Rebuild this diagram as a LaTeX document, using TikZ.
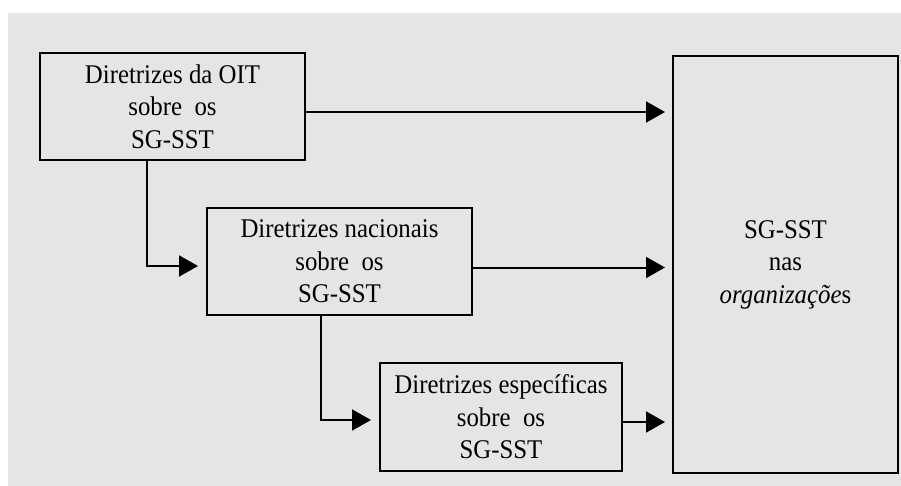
\documentclass[tikz,border=0pt]{standalone}
\usepackage{fontspec}
\setmainfont{Liberation Serif}[FakeStretch=0.92]
\usetikzlibrary{arrows.meta}
\definecolor{bg}{HTML}{E5E5E5}
\begin{document}
\begin{tikzpicture}[x=1pt,y=-1pt,
  box/.style={draw,line width=2pt,align=center,inner sep=0pt,
    font=\fontsize{27}{32.5}\selectfont},
  conn/.style={line width=2pt,-{Triangle[length=19pt,width=21pt]},shorten >=7pt}]
\useasboundingbox (0,0) rectangle (901,486);
\fill[bg] (8,13) rectangle (901,486);
\node[box,minimum width=265pt,minimum height=107pt] (oit) at (172.5,106.5)
  {Diretrizes da OIT\\sobre~\ os\\SG-SST};
\node[box,minimum width=265pt,minimum height=107pt] (nat) at (339.5,261.5)
  {Diretrizes nacionais\\sobre~\ os\\SG-SST};
\node[box,minimum width=242pt,minimum height=108pt] (esp) at (501,417)
  {Diretrizes específicas\\sobre~\ os\\SG-SST};
\node[box,minimum width=225pt,minimum height=417pt] (org) at (785.5,264.5)
  {SG-SST\\nas\\\textit{organizaçõe}s};
\draw[conn] ([yshift=-5.5pt]oit.east) -- ([yshift=-5.5pt]oit.east -| org.west);
\draw[conn] ([yshift=-6pt]nat.east) -- ([yshift=-6pt]nat.east -| org.west);
\draw[conn] ([yshift=-5pt]esp.east) -- ([yshift=-5pt]esp.east -| org.west);
\draw[conn,shorten >=8pt] ([xshift=108pt]oit.south west) |- ([yshift=-4.5pt]nat.west);
\draw[conn,shorten >=8pt] ([xshift=115pt]nat.south west) |- ([yshift=-3pt]esp.west);
\end{tikzpicture}
\end{document}
